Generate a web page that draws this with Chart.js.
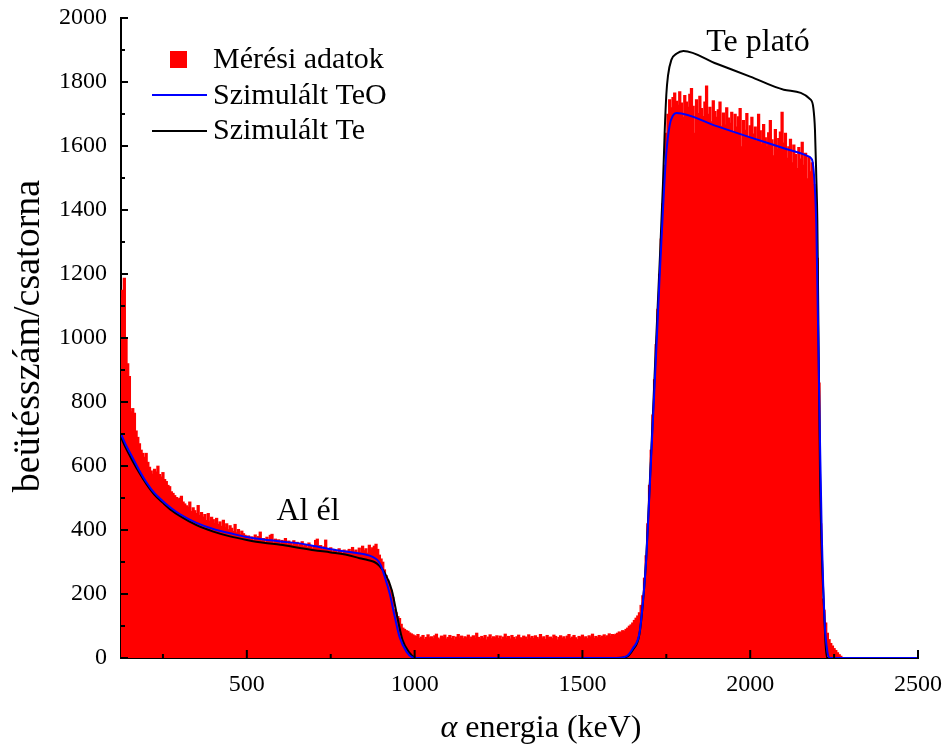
<!DOCTYPE html>
<html>
<head>
<meta charset="utf-8">
<script src="https://cdn.jsdelivr.net/npm/chart.js@4.4.1/dist/chart.umd.min.js"></script>
<style>
  html, body { margin: 0; padding: 0; background: #fff; }
  #wrap { width: 945px; height: 745px; }
</style>
</head>
<body>
<div id="wrap"><canvas id="spektrum" width="945" height="745"></canvas></div>
<script>
// Mért spektrum: 5 keV-es csatornák, 125 keV-től
const binStart = 125;
const binWidth = 5;

// 125–320 keV
const countsLow = [
  1125, 1150, 1187, 1000, 920, 880, 770, 780, 765, 710,
  690, 670, 650, 640, 628, 640, 612, 597, 585, 575,
  590, 582, 600, 574, 566, 580, 558, 552, 540, 536,
  520, 515, 508, 502, 496, 500, 506, 488, 482, 476
];
// 325–495 keV
const countsMid = [
  472, 488, 458, 470, 461, 452, 477, 446, 455, 441,
  449, 430, 452, 428, 440, 433, 421, 437, 418, 426,
  412, 431, 408, 420, 401, 414, 406, 396, 418, 392,
  402, 386, 397, 389, 384
];
// 500–875 keV
const countsAl = [
  376, 382, 371, 379, 368, 385, 372, 380, 394, 366,
  374, 362, 378, 369, 384, 387, 360, 372, 365, 370,
  358, 368, 362, 374, 356, 366, 361, 352, 367, 358,
  362, 350, 358, 364, 348, 356, 346, 360, 352, 342,
  350, 368, 372, 344, 352, 340, 348, 369, 342, 336,
  345, 332, 340, 336, 329, 342, 334, 326, 338, 330,
  335, 340, 328, 346, 332, 338, 325, 344, 330, 350,
  336, 342, 328, 353, 338, 345
];
// 880–995 keV (Al él)
const countsAlEdge = [
  350, 356, 340, 322, 310, 300, 276, 258, 244, 228,
  212, 190, 152, 142, 130, 124, 106, 94, 90, 86,
  84, 79, 76, 73
];
// 1000–1595 keV háttér
const countsFloor = [
  70, 68, 74, 62, 66, 71, 59, 65, 73, 64,
  67, 61, 70, 75, 63, 58, 69, 66, 72, 60,
  65, 71, 62, 68, 57, 66, 74, 63, 69, 61,
  67, 64, 72, 59, 66, 70, 62, 78, 65, 60,
  68, 63, 71, 57, 66, 73, 61, 67, 64, 70,
  62, 69, 58, 66, 75, 63, 68, 60, 71, 65,
  59, 67, 72, 64, 61, 69, 66, 58, 73, 63,
  68, 62, 70, 65, 60, 74, 63, 67, 59, 71,
  64, 66, 61, 72, 68, 57, 65, 70, 63, 67,
  60, 69, 74, 62, 66, 71, 64, 58, 68, 65,
  72, 63, 67, 61, 70, 66, 75, 62, 68, 64,
  71, 65, 69, 73, 66, 70, 76, 68, 74, 72
];
// 1600–1755 keV felfutó él
const countsRise = [
  75, 78, 82, 79, 86, 84, 90, 94, 100, 104,
  110, 118, 125, 132, 142, 165, 195, 250, 320, 420,
  540, 650, 760, 870, 980, 1090, 1200, 1310, 1420, 1540,
  1640, 1700
];
// 1760–2190 keV Te plató
const countsPlateau = [
  1745, 1720, 1752, 1766, 1740, 1728, 1770, 1735, 1690, 1758,
  1738, 1722, 1762, 1780, 1725, 1640, 1745, 1702, 1756, 1718,
  1693, 1738, 1788, 1700, 1722, 1676, 1742, 1708, 1690, 1714,
  1738, 1662, 1704, 1666, 1720, 1688, 1672, 1706, 1640, 1700,
  1660, 1692, 1718, 1598, 1680, 1650, 1702, 1630, 1664,
  1690, 1638, 1660, 1616, 1700, 1648, 1606, 1668, 1626, 1598,
  1642, 1680, 1620, 1570, 1652, 1590, 1624, 1644, 1706, 1610,
  1640, 1562, 1598, 1622, 1548, 1604, 1574, 1530, 1596, 1560,
  1612, 1540, 1578, 1498, 1566, 1520, 1548, 1480
];
// 2195–2270 keV lefutó él
const countsFall = [
  1420, 1250, 860, 420, 185, 150, 110, 78, 58, 46, 38, 30, 24, 17, 11, 6
];

// Szimulált görbék (energia, beütés)
const teoEnergy = [125, 140, 160, 180, 200, 225, 250, 275, 300, 350, 400, 450, 500, 550, 600, 650, 700, 750, 800, 850, 875, 890, 900, 911, 926, 941, 955, 976, 994, 1010,
  1600, 1630, 1650, 1670, 1680, 1690, 1700, 1710, 1720, 1730, 1740, 1750, 1760, 1770, 1780, 1900, 2000, 2100, 2170, 2181, 2186, 2192, 2197, 2205, 2213, 2222, 2230, 2238, 2500];
const teoCounts = [700, 665, 625, 585, 550, 515, 490, 468, 450, 422, 403, 390, 378, 370, 364, 359, 350, 340, 332, 324, 316, 305, 288, 253, 200, 128, 66, 19, 2, 0,
  0, 5, 30, 78, 172, 306, 520, 740, 960, 1190, 1400, 1578, 1665, 1695, 1703, 1662, 1627, 1593, 1569, 1562, 1550, 1480, 1350, 850, 400, 110, 20, 0, 0];

const teEnergy = [125, 140, 160, 180, 200, 225, 250, 275, 300, 350, 400, 450, 500, 550, 600, 658, 700, 750, 800, 836, 860, 880, 895, 911, 932, 949, 964, 985, 999, 1010,
  1600, 1630, 1650, 1670, 1680, 1690, 1700, 1710, 1720, 1730, 1740, 1745, 1750, 1755, 1765, 1780, 1801, 1900, 2000, 2100, 2181, 2188, 2193, 2197, 2200, 2208, 2220, 2229, 2240, 2500];
const teCounts = [690, 655, 615, 578, 545, 510, 485, 462, 444, 415, 395, 380, 369, 360, 354, 344, 337, 330, 322, 312, 306, 300, 288, 266, 212, 125, 56, 16, 2, 0,
  0, 3, 25, 75, 170, 310, 530, 760, 1000, 1230, 1480, 1640, 1760, 1820, 1869, 1888, 1897, 1857, 1817, 1776, 1744, 1720, 1650, 1500, 1369, 578, 150, 0, 0, 0];

const xTicks = [500, 1000, 1500, 2000, 2500];
const xMinorTicks = [250, 750, 1250, 1750, 2250];
const yTicks = [0, 200, 400, 600, 800, 1000, 1200, 1400, 1600, 1800, 2000];
const yMinorTicks = [100, 300, 500, 700, 900, 1100, 1300, 1500, 1700, 1900];

const seriesLabels = ['Mérési adatok', 'Szimulált TeO', 'Szimulált Te'];
const seriesColors = ['#ff0000', '#0000ff', '#000000'];

const counts = [].concat(countsLow, countsMid, countsAl, countsAlEdge, countsFloor, countsRise, countsPlateau, countsFall);
const histData = counts.map((c, i) => ({ x: binStart + i * binWidth, y: c }));
const teoData = teoEnergy.map((e, i) => ({ x: e, y: teoCounts[i] }));
const teData = teEnergy.map((e, i) => ({ x: e, y: teCounts[i] }));

const serif = "'Liberation Serif', 'Times New Roman', serif";

// befelé álló osztások, jelmagyarázat, feliratok
const decor = {
  id: 'decor',
  afterDraw(chart) {
    const { ctx, chartArea: a, scales: { x, y } } = chart;
    ctx.save();
    ctx.strokeStyle = '#000';
    ctx.lineWidth = 2;
    ctx.beginPath();
    xTicks.forEach(v => { const px = x.getPixelForValue(v); ctx.moveTo(px, a.bottom); ctx.lineTo(px, a.bottom - 8); });
    xMinorTicks.forEach(v => { const px = x.getPixelForValue(v); ctx.moveTo(px, a.bottom); ctx.lineTo(px, a.bottom - 4); });
    yTicks.forEach(v => { const py = y.getPixelForValue(v); ctx.moveTo(a.left, py); ctx.lineTo(a.left + 7, py); });
    yMinorTicks.forEach(v => { const py = y.getPixelForValue(v); ctx.moveTo(a.left, py); ctx.lineTo(a.left + 4, py); });
    ctx.stroke();

    // jelmagyarázat
    ctx.fillStyle = seriesColors[0];
    ctx.fillRect(170, 51, 17, 17);
    ctx.lineWidth = 2;
    [95, 131].forEach((ly, i) => {
      ctx.strokeStyle = seriesColors[i + 1];
      ctx.beginPath();
      ctx.moveTo(152, ly);
      ctx.lineTo(207, ly);
      ctx.stroke();
    });
    ctx.fillStyle = '#000';
    ctx.font = '30px ' + serif;
    ctx.textBaseline = 'middle';
    ctx.textAlign = 'left';
    [60, 96, 131].forEach((ly, i) => ctx.fillText(seriesLabels[i], 213, ly));

    // csúcsok feliratai
    ctx.font = '32px ' + serif;
    ctx.textAlign = 'center';
    ctx.fillText('Al él', 308, 512);
    ctx.fillText('Te plató', 758, 43);

    // tengelyfeliratok
    ctx.textBaseline = 'alphabetic';
    ctx.textAlign = 'left';
    const alpha = 'α';
    const rest = ' energia (keV)';
    ctx.font = 'italic 32px ' + serif;
    const wa = ctx.measureText(alpha).width;
    ctx.font = '32px ' + serif;
    const wr = ctx.measureText(rest).width;
    const x0 = 541 - (wa + wr) / 2;
    ctx.font = 'italic 32px ' + serif;
    ctx.fillText(alpha, x0, 737);
    ctx.font = '32px ' + serif;
    ctx.fillText(rest, x0 + wa, 737);

    ctx.translate(29, 336);
    ctx.rotate(-Math.PI / 2);
    ctx.textAlign = 'center';
    ctx.textBaseline = 'middle';
    ctx.font = '38px ' + serif;
    ctx.fillText('beütésszám/csatorna', 0, 0);
    ctx.restore();
  }
};

new Chart(document.getElementById('spektrum'), {
  type: 'bar',
  data: {
    datasets: [
      {
        type: 'bar', label: seriesLabels[0], data: histData,
        backgroundColor: seriesColors[0], borderWidth: 0,
        barThickness: 2.6, order: 3
      },
      {
        type: 'line', label: seriesLabels[1], data: teoData,
        borderColor: seriesColors[1], borderWidth: 2, pointRadius: 0,
        cubicInterpolationMode: 'monotone', order: 1
      },
      {
        type: 'line', label: seriesLabels[2], data: teData,
        borderColor: seriesColors[2], borderWidth: 2, pointRadius: 0,
        cubicInterpolationMode: 'monotone', order: 2
      }
    ]
  },
  options: {
    responsive: false,
    animation: false,
    layout: { padding: { top: 18, right: 27, left: 0, bottom: 0 } },
    plugins: { legend: { display: false }, tooltip: { enabled: false } },
    scales: {
      x: {
        type: 'linear', min: 125, max: 2500, offset: false,
        grid: { display: false, drawTicks: false, offset: false },
        border: { display: true, color: '#000', width: 2 },
        ticks: { color: '#000', font: { family: serif, size: 24 }, padding: 12, maxRotation: 0, callback: v => String(v) },
        afterBuildTicks: s => { s.ticks = xTicks.map(v => ({ value: v })); },
        afterFit: s => { s.height = 87; s.paddingLeft = 0; s.paddingRight = 0; }
      },
      y: {
        min: 0, max: 2000,
        grid: { display: false, drawTicks: false },
        border: { display: true, color: '#000', width: 2 },
        ticks: { color: '#000', font: { family: serif, size: 24 }, padding: 14, callback: v => String(v) },
        afterBuildTicks: s => { s.ticks = yTicks.map(v => ({ value: v })); },
        afterFit: s => { s.width = 121; s.paddingTop = 0; s.paddingBottom = 0; }
      }
    }
  },
  plugins: [decor]
});
</script>
</body>
</html>
